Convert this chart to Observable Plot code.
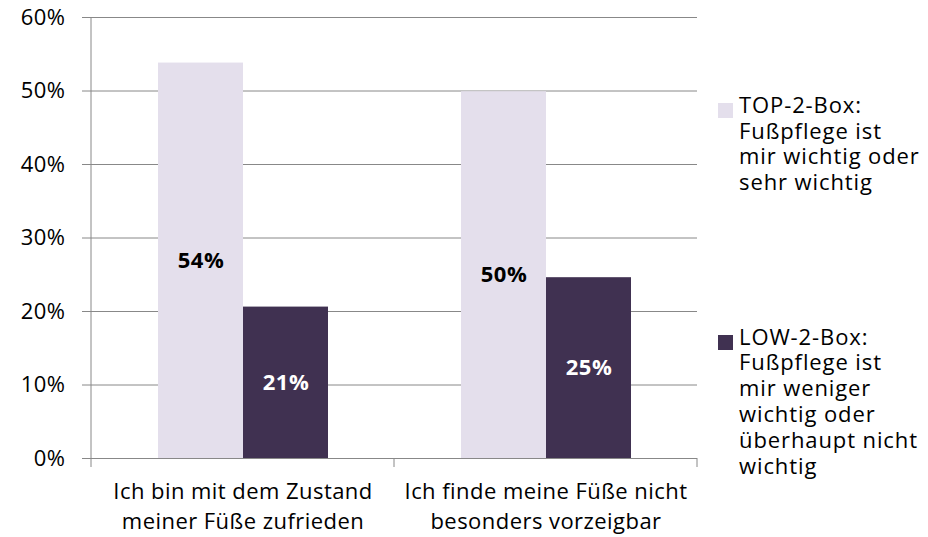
<!DOCTYPE html>
<html><head><meta charset="utf-8">
<script src="https://cdn.jsdelivr.net/npm/d3@7"></script>
<script src="https://cdn.jsdelivr.net/npm/@observablehq/plot@0.6"></script>
<style>
body{margin:0;background:#fff;}
#wrap{position:relative;width:928px;height:537px;font-family:"Open Sans",sans-serif;}
#wrap svg text{letter-spacing:0.45px;}
.leg{position:absolute;left:718px;font-size:22px;line-height:25.8px;color:#000;letter-spacing:0.9px;}
.sw{position:absolute;left:0;width:15px;height:15px;}
.lt{position:absolute;left:21px;top:0;white-space:pre;}
</style></head><body><div id="wrap"></div>
<script>
const categories = ["Ich bin mit dem Zustand\nmeiner Füße zufrieden", "Ich finde meine Füße nicht\nbesonders vorzeigbar"];
const series = ["TOP-2-Box", "LOW-2-Box"];
const seriesLabels = [
  "TOP-2-Box:\nFußpflege ist\nmir wichtig oder\nsehr wichtig",
  "LOW-2-Box:\nFußpflege ist\nmir weniger\nwichtig oder\nüberhaupt nicht\nwichtig"
];
const topValues = [53.8, 49.9];
const lowValues = [20.6, 24.6];
const yTicks = [0, 10, 20, 30, 40, 50, 60];
const colors = ["#E4DFEC", "#403151"];
const labelColors = ["#000000", "#FFFFFF"];

const data = categories.flatMap((c, i) => [
  {category: c, series: series[0], value: topValues[i]},
  {category: c, series: series[1], value: lowValues[i]}
]);

const gray = "#888888";
const plot = Plot.plot({
  width: 928, height: 537,
  marginLeft: 91, marginRight: 231, marginTop: 17, marginBottom: 79,
  style: {fontFamily: "Open Sans", fontSize: "22px", color: "#000", background: "#fff"},
  fx: {domain: categories, padding: 0},
  x: {domain: series, paddingInner: 0, paddingOuter: 0.762, axis: null},
  y: {domain: [0, 60]},
  color: {domain: series, range: colors},
  marks: [
    Plot.gridY({ticks: yTicks, stroke: gray, strokeOpacity: 1}),
    Plot.axisY({ticks: yTicks, tickSize: 9, tickPadding: 17, stroke: gray, tickFormat: d => d + "%", label: null, fontSize: 22}),
    Plot.barY(data, {fx: "category", x: "series", y: "value", fill: "series"}),
    ...series.map((s, j) => Plot.text(data.filter(d => d.series === s), {
      fx: "category", x: "series", y: d => d.value / 2,
      text: d => `${Math.round(d.value)}%`,
      fill: labelColors[j], fontWeight: "bold", fontSize: 22
    })),
    Plot.axisFx({anchor: "bottom", tickSize: 0, tickPadding: 19, lineHeight: 1.37, label: null, fontSize: 22})
  ]
});

const wrap = document.getElementById("wrap");
wrap.appendChild(plot);

// axis line and category boundary ticks, positioned from the plot's own scales
const fxs = plot.scale("fx"), ys = plot.scale("y");
const y0 = ys.apply(0), yTop = ys.apply(d3.max(yTicks));
const edges = categories.map(c => fxs.apply(c)).concat([fxs.apply(categories[categories.length - 1]) + fxs.bandwidth]);
const svg = d3.select(plot);
svg.append("line").attr("x1", edges[0]).attr("x2", edges[0]).attr("y1", yTop).attr("y2", y0 + 9).attr("stroke", gray);
svg.selectAll(null).data(edges.slice(1)).join("line")
  .attr("x1", d => d).attr("x2", d => d).attr("y1", y0).attr("y2", y0 + 9).attr("stroke", gray);

// legend
const legTops = [91.9, 323.6];
series.forEach((s, j) => {
  const item = document.createElement("div");
  item.className = "leg";
  item.style.top = legTops[j] + "px";
  const sw = document.createElement("div");
  sw.className = "sw"; sw.style.top = "11.4px"; sw.style.background = colors[j];
  const lt = document.createElement("div");
  lt.className = "lt"; lt.textContent = seriesLabels[j];
  item.appendChild(sw); item.appendChild(lt);
  wrap.appendChild(item);
});
</script></body></html>
